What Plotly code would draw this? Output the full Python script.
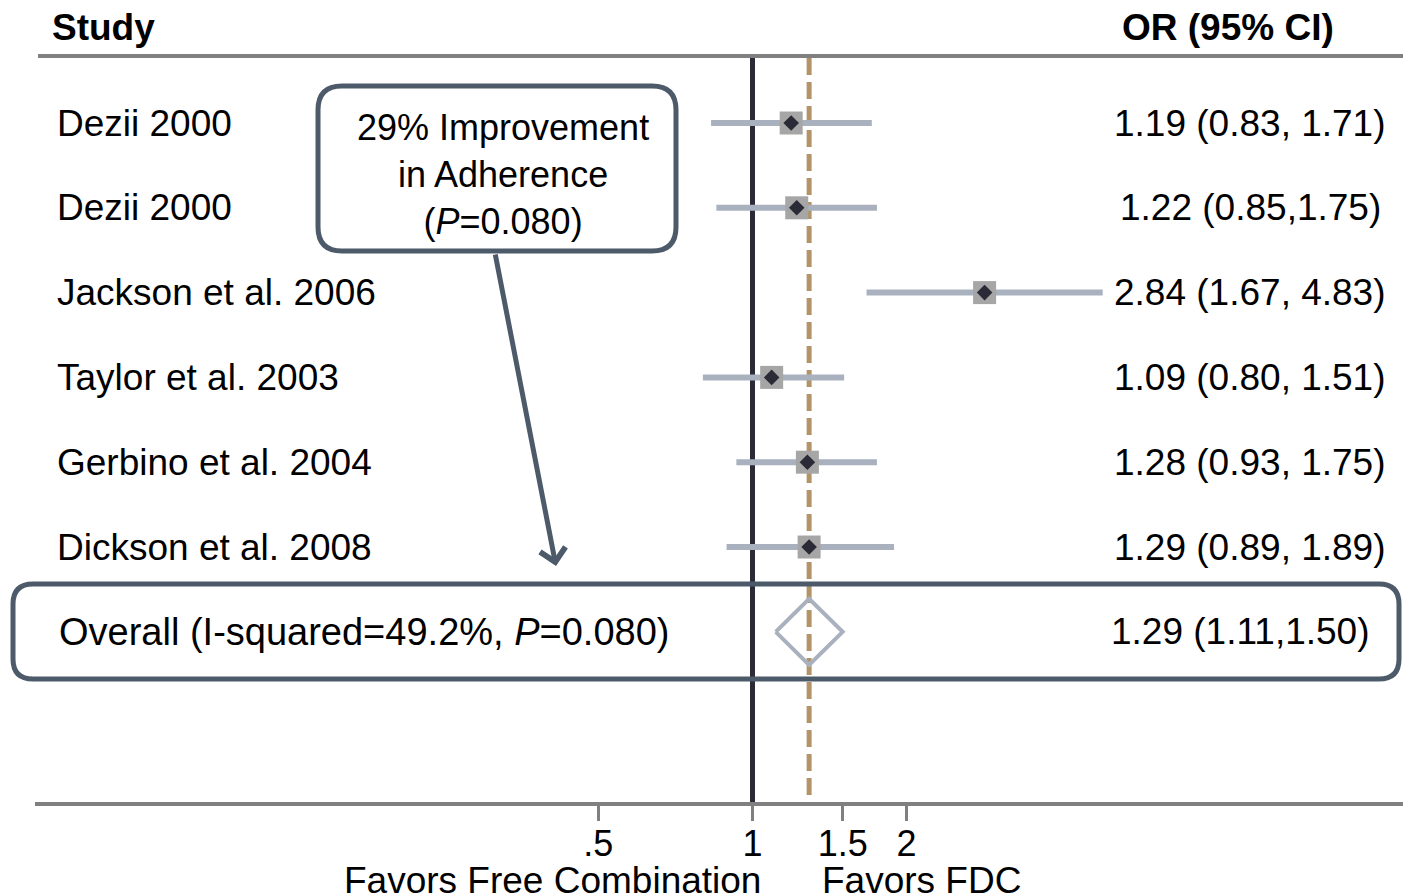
import plotly.graph_objects as go

# ---------------- data ----------------
studies = ["Dezii 2000", "Dezii 2000", "Jackson et al. 2006", "Taylor et al. 2003",
           "Gerbino et al. 2004", "Dickson et al. 2008"]
or_vals = [1.19, 1.22, 2.84, 1.09, 1.28, 1.29]
ci_low = [0.83, 0.85, 1.67, 0.80, 0.93, 0.89]
ci_high = [1.71, 1.75, 4.83, 1.51, 1.75, 1.89]
or_labels = ["1.19 (0.83, 1.71)", "1.22 (0.85,1.75)", "2.84 (1.67, 4.83)",
             "1.09 (0.80, 1.51)", "1.28 (0.93, 1.75)", "1.29 (0.89, 1.89)"]
overall_label = "Overall (I-squared=49.2%, <i>P</i>=0.080)"
overall_or = 1.29
overall_low = 1.11
overall_high = 1.50
overall_text = "1.29 (1.11,1.50)"
tick_vals = [0.5, 1, 1.5, 2]
tick_text = [".5", "1", "1.5", "2"]
callout_text = "29% Improvement<br>in Adherence<br>(<i>P</i>=0.080)"

# ---------------- geometry helpers ----------------
W, H = 1403, 894
FONT = "Liberation Sans, Arial, sans-serif"
def X(px): return px / W
def Y(py): return 1 - py / H

rows = list(range(len(studies)))
overall_row = len(studies)
y_top_line = -0.766
y_bottom = 8.007

SLATE = "#4d5a6a"
CI_COL = "#a9b1bf"
DARK = "#2b2b37"
TAN = "#b39469"
GREY = "#808080"

fig = go.Figure()

# reference line at OR = 1
fig.add_trace(go.Scatter(x=[1, 1], y=[y_top_line, y_bottom], mode="lines",
                         line=dict(color=DARK, width=5), hoverinfo="skip"))
# dashed line at overall OR
fig.add_trace(go.Scatter(x=[overall_or, overall_or], y=[y_top_line, y_bottom], mode="lines",
                         line=dict(color=TAN, width=5, dash="17px,7px"), hoverinfo="skip"))

# confidence intervals
cx, cy = [], []
for i in rows:
    cx += [ci_low[i], ci_high[i], None]
    cy += [i, i, None]
fig.add_trace(go.Scatter(x=cx, y=cy, mode="lines",
                         line=dict(color=CI_COL, width=6), hoverinfo="skip"))

# weight squares and point estimates
fig.add_trace(go.Scatter(x=or_vals, y=rows, mode="markers",
                         marker=dict(symbol="square", size=23, color="#a6a6a6"),
                         hoverinfo="skip"))
fig.add_trace(go.Scatter(x=or_vals, y=rows, mode="markers",
                         marker=dict(symbol="diamond", size=12, color=DARK),
                         hoverinfo="skip"))

# overall diamond
h = 0.39
fig.add_trace(go.Scatter(
    x=[overall_low, overall_or, overall_high, overall_or, overall_low],
    y=[overall_row, overall_row - h, overall_row, overall_row + h, overall_row],
    mode="lines", line=dict(color=CI_COL, width=4), hoverinfo="skip"))

# ---------------- shapes ----------------
def rounded_rect(x0, y0, x1, y1, r):
    # pixel coordinates -> paper path with quadratic corners
    p = [
        ("M", X(x0 + r), Y(y0)),
        ("L", X(x1 - r), Y(y0)),
        ("Q", X(x1), Y(y0), X(x1), Y(y0 + r)),
        ("L", X(x1), Y(y1 - r)),
        ("Q", X(x1), Y(y1), X(x1 - r), Y(y1)),
        ("L", X(x0 + r), Y(y1)),
        ("Q", X(x0), Y(y1), X(x0), Y(y1 - r)),
        ("L", X(x0), Y(y0 + r)),
        ("Q", X(x0), Y(y0), X(x0 + r), Y(y0)),
    ]
    s = ""
    for seg in p:
        cmd = seg[0]
        nums = seg[1:]
        pts = " ".join(f"{nums[k]:.5f},{nums[k+1]:.5f}" for k in range(0, len(nums), 2))
        s += f"{cmd}{pts} "
    return s + "Z"

shapes = [
    dict(type="line", xref="paper", yref="paper", x0=X(38), x1=X(1403), y0=Y(56), y1=Y(56),
         line=dict(color=GREY, width=4)),
    dict(type="path", xref="paper", yref="paper", path=rounded_rect(318, 86, 676, 251, 24),
         line=dict(color=SLATE, width=5), fillcolor="rgba(255,255,255,1)", layer="above"),
    dict(type="path", xref="paper", yref="paper", path=rounded_rect(13, 584, 1399, 679, 20),
         line=dict(color=SLATE, width=5), fillcolor="rgba(0,0,0,0)", layer="above"),
]

# ---------------- annotations ----------------
FS = 37
ann = []
ann.append(dict(text="<b>Study</b>", x=X(50), y=Y(27), xref="paper", yref="paper",
                xanchor="left", yanchor="middle", showarrow=False,
                font=dict(size=FS, color="black", family=FONT)))
ann.append(dict(text="<b>OR (95% CI)</b>", x=X(1336), y=Y(27), xref="paper", yref="paper",
                xanchor="right", yanchor="middle", showarrow=False,
                font=dict(size=FS, color="black", family=FONT)))
for i in rows:
    ann.append(dict(text=studies[i], x=X(55), y=i, xref="paper", yref="y",
                    xanchor="left", yanchor="middle", showarrow=False,
                    font=dict(size=FS, color="black", family=FONT)))
    ann.append(dict(text=or_labels[i], x=X(1250), y=i, xref="paper", yref="y",
                    xanchor="center", yanchor="middle", showarrow=False,
                    font=dict(size=FS, color="black", family=FONT)))
ann.append(dict(text=overall_label, x=X(57), y=overall_row, xref="paper", yref="y",
                xanchor="left", yanchor="middle", showarrow=False,
                font=dict(size=FS + 1, color="black", family=FONT)))
ann.append(dict(text=overall_text, x=X(1240), y=overall_row, xref="paper", yref="y",
                xanchor="center", yanchor="middle", showarrow=False,
                font=dict(size=FS, color="black", family=FONT)))
ann.append(dict(text=callout_text, x=X(503), y=Y(174), xref="paper", yref="paper",
                xanchor="center", yanchor="middle", showarrow=False, align="center",
                font=dict(size=36, color="black", family=FONT)))
ann.append(dict(text="", x=X(556), y=Y(566), xref="paper", yref="paper",
                ax=495 - 556, ay=253 - 566, showarrow=True, arrowhead=4,
                arrowwidth=5, arrowsize=1.0, arrowcolor=SLATE, standoff=0))
ann.append(dict(text="Favors Free Combination", x=X(763), y=Y(880), xref="paper", yref="paper",
                xanchor="right", yanchor="middle", showarrow=False,
                font=dict(size=37, color="black", family=FONT)))
ann.append(dict(text="Favors FDC", x=X(820), y=Y(880), xref="paper", yref="paper",
                xanchor="left", yanchor="middle", showarrow=False,
                font=dict(size=37, color="black", family=FONT)))

# ---------------- axes ----------------
c = 752.5
s = 512.0
x_left_px = 35
fig.update_layout(
    width=W, height=H, margin=dict(l=0, r=0, t=0, b=0),
    paper_bgcolor="white", plot_bgcolor="white", showlegend=False,
    shapes=shapes, annotations=ann,
    xaxis=dict(type="log", domain=[x_left_px / W, 1],
               range=[(x_left_px - c) / s, (W - c) / s],
               tickvals=tick_vals, ticktext=tick_text,
               ticks="outside", ticklen=15, tickwidth=3, tickcolor=GREY,
               showline=True, linecolor=GREY, linewidth=4,
               showgrid=False, zeroline=False,
               tickfont=dict(size=36, color="black", family=FONT),
               ticklabelstandoff=-8, fixedrange=True),
    yaxis=dict(domain=[(H - 802) / H, 1], range=[y_bottom, -1.4505],
               visible=False, showgrid=False, zeroline=False, fixedrange=True),
)

fig.write_html("out.html")
